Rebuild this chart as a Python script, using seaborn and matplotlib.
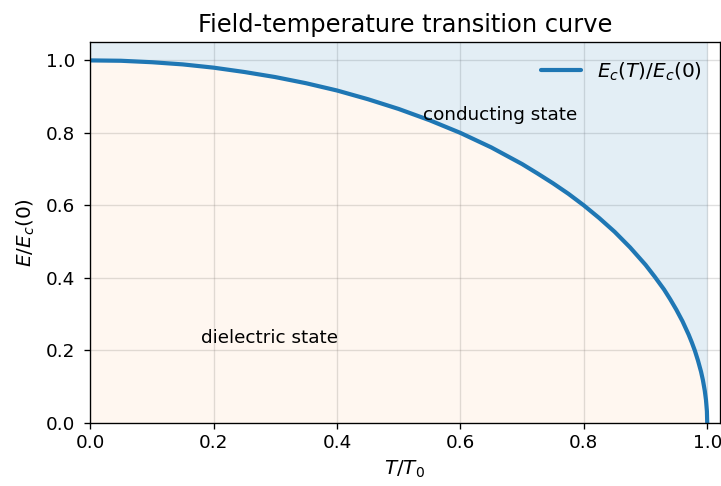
import numpy as np
import matplotlib
matplotlib.use("Agg")
import matplotlib.pyplot as plt
import seaborn as sns

# valores
t_red = [0.0, 0.05, 0.1, 0.15, 0.2, 0.25, 0.3, 0.35, 0.4, 0.45, 0.5, 0.55, 0.6, 0.65,
         0.7, 0.725, 0.75, 0.775, 0.8, 0.825, 0.85, 0.875, 0.9, 0.915, 0.93, 0.94,
         0.95, 0.96, 0.97, 0.975, 0.98, 0.985, 0.99, 0.993, 0.996, 0.998, 0.9995, 1.0]
e_red = [1.0, 0.999, 0.995, 0.989, 0.98, 0.968, 0.954, 0.937, 0.917, 0.893, 0.866,
         0.835, 0.8, 0.76, 0.714, 0.688, 0.661, 0.632, 0.6, 0.565, 0.527, 0.484,
         0.436, 0.403, 0.368, 0.341, 0.312, 0.28, 0.243, 0.222, 0.199, 0.172, 0.141,
         0.118, 0.089, 0.063, 0.032, 0.0]

sns.set_style("ticks", {"axes.edgecolor": "black", "text.color": "black",
                        "axes.labelcolor": "black", "xtick.color": "black",
                        "ytick.color": "black"})
plt.rcParams['font.family'] = ['DejaVu Sans']

fig, ax = plt.subplots(figsize=(721 / 120, 486 / 120), dpi=120)

ax.fill_between(t_red, 0, e_red, color="tab:orange", alpha=0.06, lw=0)
ax.fill_between(t_red, e_red, 1.05, color="tab:blue", alpha=0.12, lw=0)
sns.lineplot(x=t_red, y=e_red, ax=ax, color="tab:blue", lw=2.5,
             label=r"$E_c(T)/E_c(0)$", sort=False)

ax.text(0.54, 0.848, "conducting state", fontsize=11, va="center")
ax.text(0.18, 0.235, "dielectric state", fontsize=11, va="center")

ax.set_xlim(0, 1.02)
ax.set_ylim(0, 1.05)
ax.set_xlabel(r"$T/T_0$", fontsize=12)
ax.set_ylabel(r"$E/E_c(0)$", fontsize=12, labelpad=5)
ax.set_title("Field-temperature transition curve", fontsize=14.5)
ax.tick_params(labelsize=11)
ax.tick_params(axis="y", pad=5.5)
ax.grid(True, alpha=0.25, color="gray")
ax.legend(loc="upper right", frameon=False, fontsize=12)

fig.subplots_adjust(left=0.125, right=0.998, top=0.913, bottom=0.13)
plt.savefig("out.png", dpi=120)
